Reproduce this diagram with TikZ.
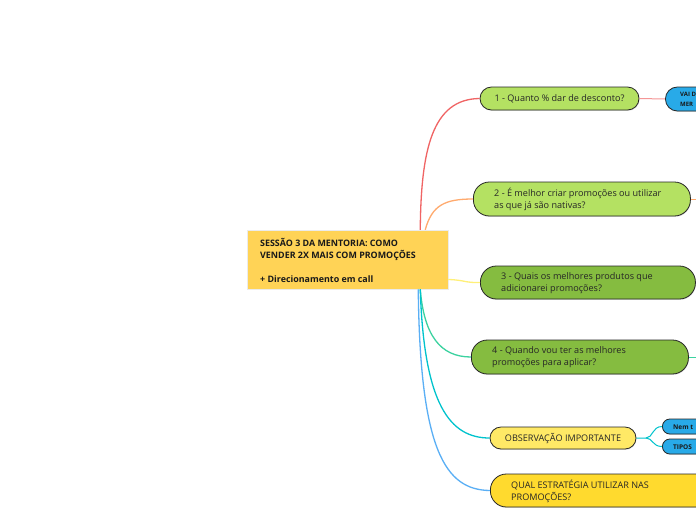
\documentclass[tikz,border=0pt]{standalone}
\usepackage{fontspec}
\setmainfont{Open Sans}
\usetikzlibrary{shadows}
\definecolor{lgreen}{RGB}{180,225,98}
\definecolor{dgreen}{RGB}{133,188,64}
\definecolor{central}{RGB}{255,211,86}
\definecolor{obsy}{RGB}{255,233,102}
\definecolor{qualy}{RGB}{255,218,46}
\definecolor{bluebox}{RGB}{40,170,232}
\definecolor{lred}{RGB}{240,100,100}
\definecolor{lredsoft}{RGB}{245,150,150}
\definecolor{lorange}{RGB}{255,170,110}
\definecolor{lyellow}{RGB}{255,240,120}
\definecolor{lteal}{RGB}{60,210,160}
\definecolor{lcyan}{RGB}{0,195,205}
\definecolor{lblue}{RGB}{90,175,245}
\begin{document}
\begin{tikzpicture}[x=1pt,y=-1pt,
  box/.style={draw=black!85, line width=0.8pt, inner sep=0pt,
    drop shadow={shadow xshift=0.5pt,shadow yshift=-0.9pt,opacity=0.25}},
  txt/.style={font=\fontsize{9.1}{12}\selectfont, align=left, inner sep=0pt, text=black!85},
  btxt/.style={font=\bfseries\fontsize{6}{10}\selectfont, align=left, inner sep=0pt, text=black!90},
  conn/.style={line width=1.3pt}
]
\clip (0,0) rectangle (696,520);
\fill[white] (0,0) rectangle (696,520);

% central node
\node[draw=black!8, line width=0.5pt, fill=central, minimum width=201pt, minimum height=59pt, inner sep=0pt] (c) at (347.5,259.5) {};
\node[font=\bfseries\fontsize{8.9}{12}\selectfont, align=left, inner sep=0pt, anchor=west, text=black!90] (ct) at (260,260)
  {SESSÃO 3 DA MENTORIA: COMO\\VENDER 2X MAIS COM PROMOÇÕES\\[12pt]+ Direcionamento em call};

% branch 1
\node[box, fill=lgreen, minimum width=159pt, minimum height=23pt, rounded corners=11.5pt] (n1) at (559.5,98.5) {};
\node[txt] (t1) at (n1.center) {1 - Quanto \% dar de desconto?};
\node[box, fill=bluebox, minimum width=80pt, minimum height=24pt, rounded corners=12pt, anchor=west] (v) at (665,99) {};
\node[btxt, anchor=west] (vt) at (680,99) {VAI D\\MER};

% branch 2
\node[box, fill=lgreen, minimum width=217pt, minimum height=34pt, rounded corners=16pt, anchor=west] (n2) at (473,199) {};
\node[txt, anchor=west] (t2) at (494,199) {2 - É melhor criar promoções ou utilizar\\as que já são nativas?};

% branch 3
\node[box, fill=dgreen, minimum width=215pt, minimum height=33pt, rounded corners=16pt, anchor=west] (n3) at (480,282.5) {};
\node[txt, anchor=west] (t3) at (501,283) {3 - Quais os melhores produtos que\\adicionarei promoções?};

% branch 4
\node[box, fill=dgreen, minimum width=217pt, minimum height=34pt, rounded corners=16pt, anchor=west] (n4) at (471,357) {};
\node[txt, anchor=west] (t4) at (492,357) {4 - Quando vou ter as melhores\\promoções para aplicar?};

% observacao
\node[box, fill=obsy, minimum width=146pt, minimum height=22pt, rounded corners=11pt] (obs) at (563,438) {};
\node[txt] (tobs) at (obs.center) {OBSERVAÇÃO IMPORTANTE};
\node[box, fill=bluebox, minimum width=80pt, minimum height=15pt, rounded corners=7.5pt, anchor=west] (nem) at (662,426.5) {};
\node[btxt, font=\bfseries\fontsize{6.5}{10}\selectfont, anchor=west] (tnem) at (673,427) {Nem t};
\node[box, fill=bluebox, minimum width=80pt, minimum height=15pt, rounded corners=7.5pt, anchor=west] (tip) at (662,446.5) {};
\node[btxt, font=\bfseries\fontsize{6.5}{10}\selectfont, anchor=west] (ttip) at (673,447) {TIPOS};

% qual
\node[box, fill=qualy, minimum width=230pt, minimum height=33pt, rounded corners=16pt, anchor=west] (q) at (490,490.5) {};
\node[txt, anchor=west] (tq) at (511,491) {QUAL ESTRATÉGIA UTILIZAR NAS\\PROMOÇÕES?};

% connectors
\draw[conn, lred] ([xshift=-28pt]c.north east) .. controls (421,150) and (432,99) .. (n1.west);
\draw[conn, lorange] ([xshift=-23pt]c.north east) .. controls (432,205) and (445,199) .. (n2.west);
\draw[conn, lyellow] ([yshift=-20pt]c.east) .. controls (465,280) and (465,283) .. (n3.west);
\draw[conn, lteal] ([xshift=-28pt]c.south east) .. controls (424,335) and (440,357) .. (n4.west);
\draw[conn, lcyan] ([xshift=-28pt]c.south east) .. controls (424,405) and (450,438) .. (obs.west);
\draw[conn, lblue] ([xshift=-30pt]c.south east) .. controls (420,450) and (445,490) .. (q.west);

\draw[conn, line width=1pt, lredsoft] (n1.east) -- (v.west);
\coordinate (e2) at (700,199);
\draw[conn, line width=1pt, lorange] (n2.east) -- (e2);
\coordinate (e4) at (700,357);
\draw[conn, line width=1pt, lteal] (n4.east) -- (e4);
\coordinate (j) at (646,438);
\draw[conn, line width=1pt, lcyan] (obs.east) -- (j) .. controls (653,438) and (652,426.5) .. (nem.west);
\draw[conn, line width=1pt, lcyan] (j) .. controls (653,438) and (652,446.5) .. (tip.west);
\end{tikzpicture}
\end{document}
